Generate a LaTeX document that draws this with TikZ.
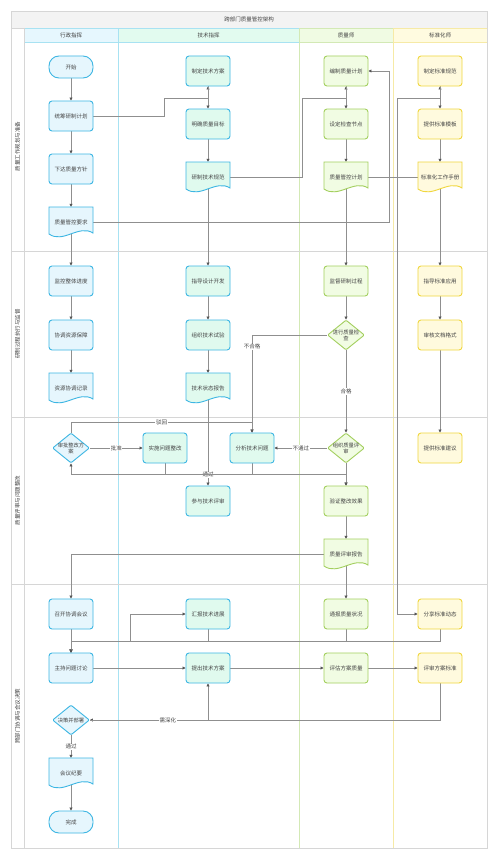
\documentclass[tikz,border=0pt]{standalone}
\usepackage{fontspec}
\setmainfont{Noto Sans CJK SC}
\usetikzlibrary{shapes.geometric,arrows.meta}
\pgfdeclarelayer{bg}
\pgfsetlayers{bg,main}
\definecolor{c1d}{HTML}{3DB6E3}
\definecolor{c1f}{HTML}{E6F6FD}
\definecolor{c2d}{HTML}{3DB6E3}
\definecolor{c2f}{HTML}{E0FAEE}
\definecolor{c3d}{HTML}{A3CF5E}
\definecolor{c3f}{HTML}{F1FCE3}
\definecolor{c4d}{HTML}{F0D73F}
\definecolor{c4f}{HTML}{FFFADE}
\definecolor{hf1}{HTML}{E6F7FE}
\definecolor{hf2}{HTML}{E2FBEF}
\definecolor{hf3}{HTML}{F0FBE3}
\definecolor{hf4}{HTML}{FFFBE0}
\definecolor{ln1}{HTML}{A8E2F2}
\definecolor{ln3}{HTML}{D3E9B5}
\definecolor{ln4}{HTML}{F6EAA6}
\definecolor{framec}{HTML}{D6D6D6}
\definecolor{titlef}{HTML}{F3F3F3}
\definecolor{linec}{HTML}{8F8F8F}
\definecolor{arrc}{HTML}{555555}
\definecolor{txt}{HTML}{444444}
\newcommand{\docnode}[5]{%
  \filldraw[line width=0.9pt, draw=#5d, fill=#5f]
   ({#2-22},{#3-15}) -- ({#2+22},{#3-15}) -- ({#2+22},{#3+11})
   .. controls ({#2+8},{#3+2}) and ({#2-8},{#3+22}) .. ({#2-22},{#3+12}) -- cycle;
  \node[doctext] (#1) at (#2,#3) {#4};
}
\tikzset{
  box/.style={rectangle, rounded corners=3pt, minimum width=44pt, minimum height=30pt,
    line width=0.9pt, align=center, inner sep=1pt, text=txt},
  La/.style={box, draw=c1d, fill=c1f},
  Lb/.style={box, draw=c2d, fill=c2f},
  Lc/.style={box, draw=c3d, fill=c3f},
  Ld/.style={box, draw=c4d, fill=c4f},
  term/.style={rectangle, rounded corners=10pt, minimum width=44pt, minimum height=22pt,
    draw=c1d, fill=c1f, line width=0.9pt, text=txt},
  dia/.style={diamond, minimum width=37pt, minimum height=30pt, inner sep=0pt,
    line width=0.9pt, rounded corners=1pt},
  diatext/.style={align=center, text=txt, inner sep=0pt, font=\fontsize{5.3}{6}\selectfont},
  doctext/.style={rectangle, minimum width=44pt, minimum height=30pt, inner sep=1pt, text=txt},
  edge/.style={draw=linec, line width=0.7pt, -{Triangle[length=3pt,width=3pt,color=arrc]}},
  lbl/.style={fill=white, inner sep=0.6pt, text=txt},
  hdr/.style={text=txt},
}
\begin{document}
\begin{tikzpicture}[x=1pt,y=-1pt,font=\fontsize{5.5}{6.5}\selectfont]
\useasboundingbox (0,0) rectangle (498,859);
\begin{pgfonlayer}{bg}
\fill[white] (0,0) rectangle (498,859);
% title
\draw[framec, line width=0.9pt, fill=titlef] (11,11) rectangle (487,28);
% headers
\draw[ln1, line width=0.8pt, fill=hf1] (24,28) rectangle (118,42);
\draw[ln1, line width=0.8pt, fill=hf2] (118,28) rectangle (299,42);
\draw[ln3, line width=0.8pt, fill=hf3] (299,28) rectangle (393,42);
\draw[ln4, line width=0.8pt, fill=hf4] (393,28) rectangle (487,42);
% lane lines
\draw[ln1, line width=0.8pt] (118,42) -- (118,848);
\draw[ln3, line width=0.8pt] (299,42) -- (299,848);
\draw[ln4, line width=0.8pt] (393,42) -- (393,848);
\draw[ln4, line width=0.8pt] (487,42) -- (487,848);
% rows
\draw[framec, line width=0.9pt] (11,251) -- (487,251);
\draw[framec, line width=0.9pt] (11,417) -- (487,417);
\draw[framec, line width=0.9pt] (11,584) -- (487,584);
\draw[framec, line width=0.9pt] (24,28) -- (24,848);
\draw[framec, line width=0.9pt] (11,11) rectangle (487,848);
\end{pgfonlayer}
% texts of frame
\node[hdr] (title) at (249,19.5) {跨部门质量管控架构};
\node[hdr] (hA) at (71,35) {行政指挥};
\node[hdr] (hB) at (208.5,35) {技术指挥};
\node[hdr] (hC) at (346,35) {质量师};
\node[hdr] (hD) at (440,35) {标准化师};
\node[hdr, rotate=90] (r1) at (17.5,146.5) {质量工作规划与准备};
\node[hdr, rotate=90] (r2) at (17.5,334) {研制过程执行与监督};
\node[hdr, rotate=90] (r3) at (17.5,500.5) {质量评审与问题整改};
\node[hdr, rotate=90] (r4) at (17.5,716) {跨部门协调与会议决策};
% ---- row 1
\node[term] (start) at (71,67) {开始};
\node[La] (a1) at (71,116) {统筹研制计划};
\node[La] (a2) at (71,169) {下达质量方针};
\docnode{a3}{71}{222}{质量管控要求}{c1}
\node[Lb] (b1) at (208,71) {制定技术方案};
\node[Lb] (b2) at (208,124) {明确质量目标};
\docnode{b3}{208}{177}{研制技术规范}{c2}
\node[Lc] (c1) at (346,71) {编制质量计划};
\node[Lc] (c2) at (346,124) {设定检查节点};
\docnode{c3}{346}{177}{质量管控计划}{c3}
\node[Ld] (d1) at (440,71) {制定标准规范};
\node[Ld] (d2) at (440,124) {提供标准模板};
\docnode{d3}{440}{177}{标准化工作手册}{c4}
% ---- row 2
\node[La] (a4) at (71,281) {监控整体进度};
\node[La] (a5) at (71,335) {协调资源保障};
\docnode{a6}{71}{388}{资源协调记录}{c1}
\node[Lb] (b4) at (208,281) {指导设计开发};
\node[Lb] (b5) at (208,335) {组织技术试验};
\docnode{b6}{208}{388}{技术状态报告}{c2}
\node[Lc] (c4) at (346,281) {监督研制过程};
\node[dia, draw=c3d, fill=c3f] (c5) at (346,335) {};
\node[diatext] (c5t) at (c5) {进行质量检\\查};
\node[Ld] (d4) at (440,281) {指导标准应用};
\node[Ld] (d5) at (440,335) {审核文档格式};
% ---- row 3
\node[dia, draw=c1d, fill=c1f] (a7) at (71,448) {};
\node[diatext] (a7t) at (a7) {审批整改方\\案};
\node[Lb] (b7) at (165,448) {实施问题整改};
\node[Lb] (b8) at (252,448) {分析技术问题};
\node[Lb] (b9) at (208,501) {参与技术评审};
\node[dia, draw=c3d, fill=c3f] (c6) at (346,448) {};
\node[diatext] (c6t) at (c6) {组织质量评\\审};
\node[Lc] (c7) at (346,501) {验证整改效果};
\docnode{c8}{346}{554}{质量评审报告}{c3}
\node[Ld] (d6) at (440,448) {提供标准建议};
% ---- row 4
\node[La] (a8) at (71,614) {召开协调会议};
\node[La] (a9) at (71,668) {主持问题讨论};
\node[dia, draw=c1d, fill=c1f] (a10) at (71,720) {};
\node[diatext] (a10t) at (a10) {决策并部署};
\docnode{a11}{71}{773}{会议纪要}{c1}
\node[term] (a12) at (71,822) {完成};
\node[Lb] (b10) at (208,614) {汇报技术进展};
\node[Lb] (b11) at (208,668) {提出技术方案};
\node[Lc] (c9) at (346,614) {通报质量状况};
\node[Lc] (c10) at (346,668) {评估方案质量};
\node[Ld] (d7) at (440,614) {分享标准动态};
\node[Ld] (d8) at (440,668) {评审方案标准};
% ---- edges
\begin{pgfonlayer}{bg}
\draw[edge] (start) -- (a1);
\draw[edge] (a1) -- (a2);
\draw[edge] (a2) -- (a3.north);
\draw[edge] (a3.center) -- (a4.north);
\draw[edge] (a4) -- (a5);
\draw[edge] (a5) -- (a6.north);
\draw[edge] (a1.east) -- (164,116) -- (164,98) -- (208,98) -- (b1.south);
\draw[edge] (b1) -- (b2);
\draw[edge] (b2) -- (b3.north);
\draw[edge] (b3.east) -- (302,177) -- (302,98) -- (346,98) -- (c1.south);
\draw[edge] (c1) -- (c2);
\draw[edge] (c2) -- (c3.north);
\draw[edge] (c3.east) -- (397,177) -- (397,98) -- (440,98) -- (d1.south);
\draw[edge] (d1) -- (d2);
\draw[edge] (d2) -- (d3.north);
\draw[edge] (a3.east) -- (389,222) -- (389,71) -- (c1.east);
\draw[edge] (d3.west) -- (397,177) -- (397,614) -- (d7.west);
\draw[edge] (b3.center) -- (b4.north);
\draw[edge] (c3.center) -- (c4.north);
\draw[edge] (d3.center) -- (d4.north);
\draw[edge] (b4) -- (b5);
\draw[edge] (b5) -- (b6.north);
\draw[edge] (c4) -- (c5);
\draw[edge] (d4) -- (d5);
\draw[edge] (d5) -- (d6);
\draw[edge] (c5.west) -| node[lbl, pos=0.56] {不合格} (b8.north);
\draw[edge] (c5.south) -- node[lbl] {合格} (c6.north);
\draw[edge] (b6.center) -- node[lbl, pos=0.89] {通过} (b9.north);
\draw[edge] (a7.east) -- node[lbl] {批准} (b7.west);
\draw[edge] (a7.north) -- (71,422) -- node[lbl] {驳回} (252,422) -- (b8.north);
\draw[edge] (c6.west) -- node[lbl] {不通过} (b8.east);
\draw[edge] (b8.south) -- (252,474) -- (71,474) -- (a7.south);
\draw[edge] (b7.south) -- (165,474) -- (346,474) -- (c7.north);
\draw[edge] (c6.south) -- (c7.north);
\draw[edge] (c7) -- (c8.north);
\draw[edge] (c8.west) -| (a8.north);
\draw[edge] (c8.center) -- (c9.north);
\draw[edge] (a8) -- (a9);
\draw[edge] (a8.south) -- (71,641) -- (130,641) -- (130,614) -- (b10.west);
\draw[edge] (b10.south) -- (208,641) -- (71,641) -- (a9.north);
\draw[edge] (c9.south) -- (346,641) -- (71,641) -- (a9.north);
\draw[edge] (d7.south) -- (440,641) -- (71,641) -- (a9.north);
\draw[edge] (a9) -- (b11);
\draw[edge] (b11) -- (c10);
\draw[edge] (c10) -- (d8);
\draw[edge] (d8.south) |- (a10.east);
\draw[edge] (a10.east) -| node[lbl, pos=0.33] {需深化} (b11.south);
\draw[edge] (a10.south) -- node[lbl] {通过} (a11.north);
\draw[edge] (a11.center) -- (a12.north);
\end{pgfonlayer}
\end{tikzpicture}
\end{document}
